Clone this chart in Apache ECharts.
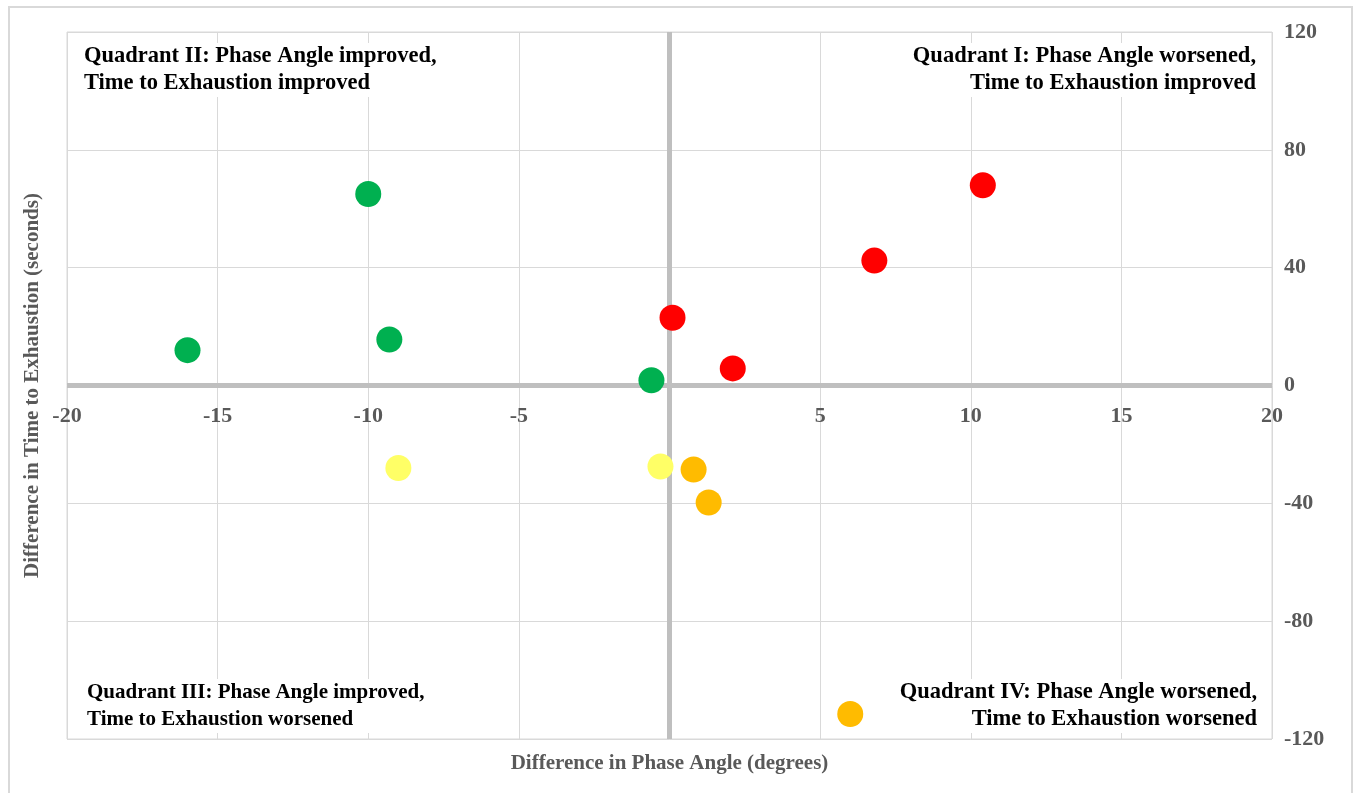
<!DOCTYPE html>
<html>
<head>
<meta charset="utf-8">
<script src="https://cdn.jsdelivr.net/npm/echarts@6/dist/echarts.min.js"></script>
<style>
  html, body { margin: 0; padding: 0; background: #fff; }
  #main { width: 1354px; height: 793px; }
</style>
</head>
<body>
<div id="main"></div>
<script type="text/javascript">
    // 数据: [相位角差, 力竭时间差]
    var greenPoints  = [[-10, 65], [-16, 12], [-9.3, 15.6], [-0.6, 1.8]];
    var redPoints    = [[0.1, 23], [2.1, 5.8], [6.8, 42.4], [10.4, 68]];
    var yellowPoints = [[-9.0, -28], [-0.3, -27.5]];
    var orangePoints = [[0.8, -28.5], [1.3, -39.7], [6.0, -111.5]];

    var xMin = -20, xMax = 20, xStep = 5;
    var yMin = -120, yMax = 120, yStep = 40;

    var xTitle = 'Difference in Phase Angle (degrees)';
    var yTitle = 'Difference in Time to Exhaustion (seconds)';
    var quadrantText = {
        q1: 'Quadrant I: Phase Angle worsened,\nTime to Exhaustion improved',
        q2: 'Quadrant II: Phase Angle improved,\nTime to Exhaustion improved',
        q3: 'Quadrant III: Phase Angle improved,\nTime to Exhaustion worsened',
        q4: 'Quadrant IV: Phase Angle worsened,\nTime to Exhaustion worsened'
    };

    var serif = '"Liberation Serif", "Times New Roman", serif';
    var tickStyle = { color: '#595959', fontFamily: serif, fontSize: 22, fontWeight: 'bold' };
    var titleStyle = { color: '#595959', fontFamily: serif, fontSize: 21, fontWeight: 'bold' };

    function quad(text, x, y, align, size) {
        return {
            type: 'text', x: x, y: y, z: 20,
            style: {
                text: text, align: align, verticalAlign: 'top',
                fill: '#000', fontFamily: serif, fontSize: size, fontWeight: 'bold',
                lineHeight: 27, backgroundColor: '#fff'
            }
        };
    }

    // 网格: 上 32, 下 54, 总高 793 -> 0 刻度线距底边的像素
    var gridTop = 32, gridBottom = 54;
    var zeroOffset = (793 - gridTop - gridBottom) * (0 - yMin) / (yMax - yMin);

    var myChart = echarts.init(document.getElementById('main'));

    function dot(name, data, color) {
        return {
            name: name,
            type: 'scatter',
            xAxisIndex: 0,
            yAxisIndex: 0,
            symbolSize: 26,
            itemStyle: { color: color, opacity: 1 },
            data: data,
            z: 10
        };
    }

    var zeroLine = dot('zero', [], '#BFBFBF');
    zeroLine.markLine = {
        silent: true,
        symbol: 'none',
        label: { show: false },
        lineStyle: { color: '#BFBFBF', width: 5, type: 'solid' },
        data: [{ xAxis: 0 }, { yAxis: 0 }],
        z: 3
    };

    function blankX(extra) {
        return Object.assign({
            type: 'value',
            position: 'bottom',
            min: xMin, max: xMax, interval: xStep,
            axisLine: { show: false, onZero: false },
            axisTick: { show: false },
            axisLabel: { show: false },
            splitLine: { show: false }
        }, extra);
    }

    var option = {
        animation: false,
        backgroundColor: '#fff',
        grid: {
            left: 67, right: 82, top: gridTop, bottom: gridBottom,
            show: true, borderColor: '#D9D9D9', borderWidth: 1
        },
        xAxis: [
            blankX({
                splitLine: { lineStyle: { color: '#D9D9D9', width: 1 } }
            }),
            blankX({
                name: xTitle,
                nameLocation: 'middle',
                nameGap: 14,
                nameTextStyle: titleStyle
            }),
            // 刻度标签放在 y=0 线下方
            blankX({
                offset: -zeroOffset,
                axisLabel: Object.assign({
                    show: true,
                    margin: 20,
                    formatter: function (v) { return v === 0 ? '' : String(v); }
                }, tickStyle)
            })
        ],
        yAxis: [{
            type: 'value',
            position: 'right',
            min: yMin, max: yMax, interval: yStep,
            axisLine: { show: false, onZero: false },
            axisTick: { show: false },
            splitLine: { lineStyle: { color: '#D9D9D9', width: 1 } },
            axisLabel: Object.assign({ margin: 12 }, tickStyle)
        }, {
            type: 'value',
            position: 'left',
            min: yMin, max: yMax,
            axisLine: { show: false, onZero: false },
            axisTick: { show: false },
            axisLabel: { show: false },
            splitLine: { show: false },
            name: yTitle,
            nameLocation: 'middle',
            nameGap: 24,
            nameTextStyle: titleStyle
        }],
        graphic: [
            { type: 'rect', silent: true, z: -1,
              shape: { x: 9, y: 7, width: 1343, height: 820 },
              style: { fill: 'none', stroke: '#D9D9D9', lineWidth: 2 } },
            quad(quadrantText.q2, 84, 43, 'left', 22.5),
            quad(quadrantText.q1, 1256, 43, 'right', 22.5),
            quad(quadrantText.q3, 87, 679, 'left', 21),
            quad(quadrantText.q4, 1257, 679, 'right', 22.5)
        ],
        series: [
            zeroLine,
            dot('green', greenPoints, '#00B050'),
            dot('red', redPoints, '#FF0000'),
            dot('yellow', yellowPoints, '#FFFF66'),
            dot('orange', orangePoints, '#FFBB00')
        ]
    };

    myChart.setOption(option);
</script>
</body>
</html>
